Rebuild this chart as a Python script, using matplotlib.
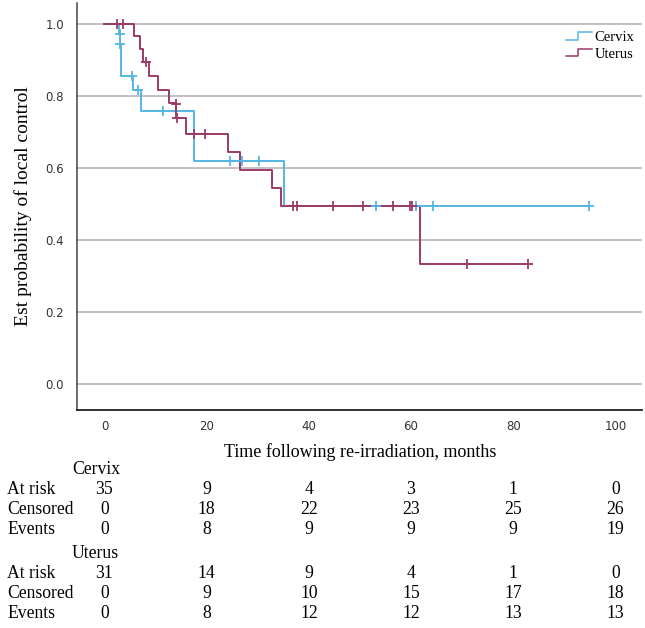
import matplotlib
matplotlib.use("Agg")
import matplotlib.pyplot as plt
from matplotlib.lines import Line2D
from matplotlib.legend_handler import HandlerBase
from matplotlib.transforms import blended_transform_factory

# ---------------- data ----------------
cervix_times = [0, 2.9, 3.0, 3.2, 5.5, 7.1, 17.6, 35.1]
cervix_surv = [1.0, 0.971, 0.943, 0.855, 0.817, 0.758, 0.619, 0.494]
cervix_end = 94.9
cervix_cens_t = [2.95, 3.1, 5.3, 6.5, 11.4, 24.6, 27.0, 30.3, 53.1, 61.0, 64.2, 94.9]
cervix_cens_s = [0.971, 0.943, 0.855, 0.817, 0.758, 0.619, 0.619, 0.619, 0.494, 0.494, 0.494, 0.494]

uterus_times = [0, 5.8, 6.9, 7.6, 8.7, 10.5, 12.7, 14.0, 15.9, 24.2, 26.5, 32.7, 34.5, 61.7]
uterus_surv = [1.0, 0.965, 0.930, 0.895, 0.855, 0.817, 0.780, 0.738, 0.693, 0.644, 0.595, 0.544, 0.494, 0.332]
uterus_end = 82.8
uterus_cens_t = [2.5, 3.6, 8.1, 13.9, 14.1, 17.6, 19.7, 36.8, 37.6, 44.8, 50.5, 56.5, 59.8, 60.1, 70.9, 82.8]
uterus_cens_s = [1.0, 1.0, 0.895, 0.778, 0.738, 0.693, 0.693, 0.494, 0.494, 0.494, 0.494, 0.494, 0.494, 0.494, 0.332, 0.332]

table_times = [0, 20, 40, 60, 80, 100]
row_labels = ["At risk", "Censored", "Events"]
cervix_at_risk = [35, 9, 4, 3, 1, 0]
cervix_censored = [0, 18, 22, 23, 25, 26]
cervix_events = [0, 8, 9, 9, 9, 19]
uterus_at_risk = [31, 14, 9, 4, 1, 0]
uterus_censored = [0, 9, 10, 15, 17, 18]
uterus_events = [0, 8, 12, 12, 13, 13]

groups = ["Cervix", "Uterus"]
c_cervix = "#55b5e3"
c_uterus = "#9c3a68"

W, H = 645, 628
fig = plt.figure(figsize=(W / 100, H / 100), dpi=100)
ax = fig.add_axes([76.7 / W, 1 - 410 / H, (642 - 76.7) / W, (410 - 3) / H])

serif = ["Liberation Serif", "DejaVu Serif"]
narrow = ["Liberation Sans Narrow", "DejaVu Sans"]


def km(times, surv, end):
    xs = list(times) + [end]
    ys = list(surv) + [surv[-1]]
    return xs, ys


for (t, s, e, ct, cs, col) in [
    (cervix_times, cervix_surv, cervix_end, cervix_cens_t, cervix_cens_s, c_cervix),
    (uterus_times, uterus_surv, uterus_end, uterus_cens_t, uterus_cens_s, c_uterus),
]:
    xs, ys = km(t, s, e)
    ax.step(xs, ys, where="post", color=col, lw=1.4, zorder=3)
    ax.plot(ct, cs, linestyle="none", marker="+", markersize=7, mew=1.3, color=col, zorder=4)

ax.set_xlim(-5.44, 105.2)
ax.set_ylim(-0.072, 1.058)
ax.set_yticks([0.0, 0.2, 0.4, 0.6, 0.8, 1.0])
ax.set_yticklabels(["0.0", "0.2", "0.4", "0.6", "0.8", "1.0"])
ax.set_xticks([0, 20, 40, 60, 80, 100])
ax.yaxis.grid(True, color="#bdbdbd", lw=1.3, zorder=0)
ax.set_axisbelow(True)
for sp in ["top", "right"]:
    ax.spines[sp].set_visible(False)
ax.spines["left"].set_color("#444444")
ax.spines["bottom"].set_color("#222222")
ax.spines["left"].set_linewidth(1.1)
ax.spines["bottom"].set_linewidth(1.3)
ax.tick_params(axis="both", length=0, labelsize=8.5, colors="#333333")
ax.tick_params(axis="y", pad=9)
ax.tick_params(axis="x", pad=7)
for lab in ax.get_xticklabels() + ax.get_yticklabels():
    lab.set_family(narrow)

ax.set_ylabel("Est probability of local control", family=serif, fontsize=14, labelpad=10)
fig.text(360 / W, 1 - 452 / H, "Time following re-irradiation, months", family=serif,
         fontsize=13, ha="center", va="center")


class StepHandler(HandlerBase):
    def create_artists(self, legend, orig_handle, xdescent, ydescent, width, height, fontsize, trans):
        x0, x1 = -xdescent, -xdescent + width
        xm = x0 + width * 0.45
        ylo = -ydescent + height * 0.15
        yhi = -ydescent + height * 0.85
        ln = Line2D([x0, xm, xm, x1], [ylo, ylo, yhi, yhi], color=orig_handle.get_color(),
                    lw=1.1, transform=trans)
        return [ln]


handles = [Line2D([], [], color=c_cervix), Line2D([], [], color=c_uterus)]
leg = ax.legend(handles, groups, handler_map={Line2D: StepHandler()}, loc="upper right",
                bbox_to_anchor=(640 / W, 1 - 25 / H), bbox_transform=fig.transFigure,
                frameon=False, prop={"family": serif, "size": 10.5}, handlelength=1.8,
                handletextpad=0.15, labelspacing=0.25, borderaxespad=0)

# ---------------- risk table ----------------
tr = blended_transform_factory(ax.transData, fig.transFigure)
row_y = [470, 489, 509, 530, 553, 573, 593, 614]
tab = [
    (groups[0], [cervix_at_risk, cervix_censored, cervix_events]),
    (groups[1], [uterus_at_risk, uterus_censored, uterus_events]),
]
k = 0
for gname, rows in tab:
    fig.text(72 / W, 1 - row_y[k] / H, gname, family=serif, fontsize=12.7, ha="left", va="center")
    k += 1
    for lab, vals in zip(row_labels, rows):
        yy = 1 - row_y[k] / H
        fig.text(7 / W, yy, lab, family=serif, fontsize=12.7, ha="left", va="center")
        for t, v in zip(table_times, vals):
            fig.text(t, yy, str(v), family=serif, fontsize=12.7, ha="center", va="center", transform=tr)
        k += 1

fig.savefig("out.png", dpi=100)
